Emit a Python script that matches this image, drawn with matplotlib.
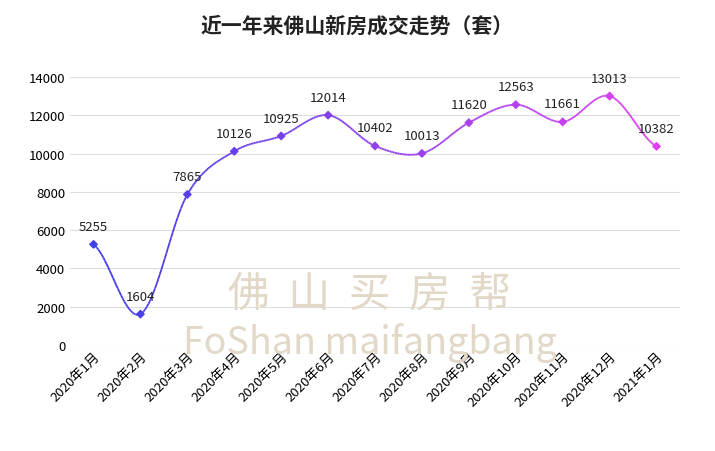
import numpy as np
import matplotlib.pyplot as plt
from matplotlib.collections import LineCollection
from matplotlib.colors import LinearSegmentedColormap

plt.rcParams['font.family'] = ['Noto Sans CJK SC', 'DejaVu Sans']

months = ['2020年1月', '2020年2月', '2020年3月', '2020年4月', '2020年5月', '2020年6月',
          '2020年7月', '2020年8月', '2020年9月', '2020年10月', '2020年11月', '2020年12月', '2021年1月']
sales = [5255, 1604, 7865, 10126, 10925, 12014, 10402, 10013, 11620, 12563, 11661, 13013, 10382]

fig = plt.figure(figsize=(7.15, 4.52), dpi=100)
ax = fig.add_axes([0.098, 0.235, 0.853, 0.592])

x = np.arange(len(sales))
y = np.array(sales, dtype=float)

# Catmull-Rom smoothing for the drawn curve
xs, ys = [], []
for i in range(len(x) - 1):
    p0 = y[max(i - 1, 0)]; p1 = y[i]; p2 = y[i + 1]; p3 = y[min(i + 2, len(y) - 1)]
    t = np.linspace(0, 1, 30)
    yy = 0.5 * (2 * p1 + (-p0 + p2) * t + (2 * p0 - 5 * p1 + 4 * p2 - p3) * t**2
                + (-p0 + 3 * p1 - 3 * p2 + p3) * t**3)
    xs.extend(i + t); ys.extend(yy)
xs = np.array(xs); ys = np.array(ys)

cmap = LinearSegmentedColormap.from_list('g', ['#3f3fe8', '#e040f0'])
pts = np.column_stack([xs, ys]).reshape(-1, 1, 2)
segs = np.concatenate([pts[:-1], pts[1:]], axis=1)
lc = LineCollection(segs, cmap=cmap, linewidth=1.3, zorder=3)
lc.set_array(xs[:-1] / xs.max())
ax.add_collection(lc)
ax.scatter(x, y, marker='D', s=14, c=cmap(x / x.max()), zorder=4)

for xi, yi in zip(x, sales):
    ax.text(xi, yi + 600, str(yi), ha='center', va='bottom', fontsize=9.5, color='#222222')

# watermark
fig.text(0.517, 0.347, '佛  山  买  房  帮', ha='center', va='center', fontsize=30, color='#e2d8c8', zorder=0)
fig.text(0.517, 0.241, 'FoShan maifangbang', ha='center', va='center', fontsize=27, color='#e2d8c8', zorder=0)

ax.set_xlim(-0.5, 12.5)
ax.set_ylim(0, 14000)
ax.set_yticks(range(0, 14001, 2000))
ax.set_xticks(x)
ax.set_xticklabels(months, rotation=45, ha='right', rotation_mode='anchor', fontsize=9.5)
ax.tick_params(axis='y', labelsize=9.5, length=0)
ax.tick_params(axis='x', length=0)
ax.grid(axis='y', color='#dddddd', linewidth=0.8)
ax.set_axisbelow(True)
ax.patch.set_alpha(0)
for s in ax.spines.values():
    s.set_visible(False)

fig.text(0.5, 0.942, '近一年来佛山新房成交走势（套）', ha='center', va='center', fontsize=15, fontweight='bold', color='#222222')

fig.savefig('out.png', dpi=100)
